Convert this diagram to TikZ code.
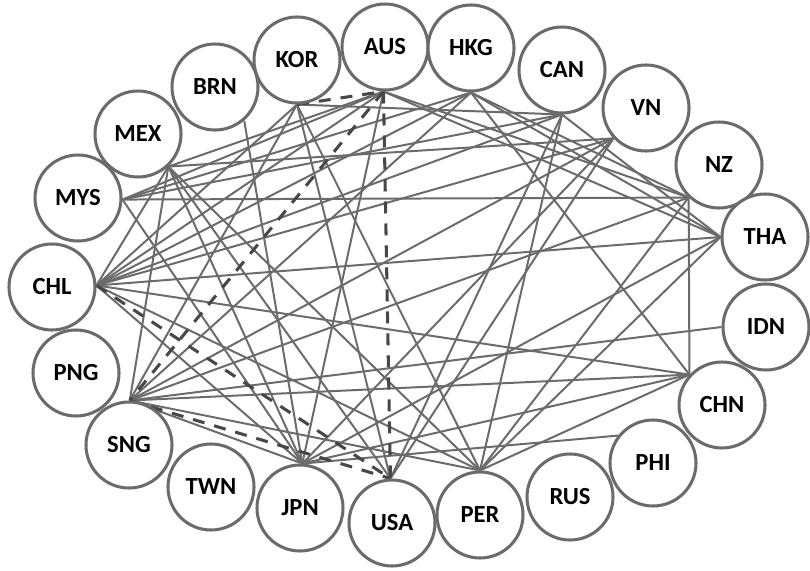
\documentclass[tikz,border=0pt]{standalone}
\usepackage{fontspec}
\setmainfont{Carlito}
\usetikzlibrary{backgrounds}

\begin{document}
\begin{tikzpicture}[x=0.3mm,y=-0.3mm,
  country/.style={circle,draw=black!58,line width=2.6pt,fill=white,
    minimum size=25.8mm,inner sep=0pt,font=\fontsize{21}{24}\selectfont\bfseries},
  link/.style={draw=black!58,line width=1.7pt},
  pathlink/.style={draw=black!72,line width=2.6pt,dash pattern=on 3.6mm off 3mm}]
\useasboundingbox (0,0) rectangle (810,570);

% Countries around the ellipse
\node[country] (KOR) at (297,60)  {KOR};
\node[country] (AUS) at (385,47)  {AUS};
\node[country] (HKG) at (471,48)  {HKG};
\node[country] (CAN) at (562,70)  {CAN};
\node[country] (VN)  at (646,108) {VN};
\node[country] (NZ)  at (719,165) {NZ};
\node[country] (THA) at (765,237) {THA};
\node[country] (IDN) at (766,327) {IDN};
\node[country] (CHN) at (722,405) {CHN};
\node[country] (PHI) at (653,463) {PHI};
\node[country] (RUS) at (570,497) {RUS};
\node[country] (PER) at (480,515) {PER};
\node[country] (USA) at (392,523) {USA};
\node[country] (JPN) at (300,508) {JPN};
\node[country] (TWN) at (211,487) {TWN};
\node[country] (SNG) at (129,445) {SNG};
\node[country] (PNG) at (76,373)  {PNG};
\node[country] (CHL) at (52,287)  {CHL};
\node[country] (MYS) at (78,198)  {MYS};
\node[country] (MEX) at (138,134) {MEX};
\node[country] (BRN) at (215,87)  {BRN};

% Point on each circle where its links meet
\foreach \n/\a in {KOR/-90,AUS/-92,HKG/-90,CAN/-90,VN/-137,NZ/-133,THA/180,
  IDN/180,CHN/137,PHI/142,PER/90,USA/92,JPN/87,SNG/89,CHL/2,MYS/-2,MEX/-47,BRN/-49}
  \coordinate (h\n) at (\n.\a);

\begin{scope}[on background layer]
% Links
\foreach \a/\b in {CHL/MEX,CHL/KOR,CHL/AUS,CHL/HKG,CHL/CAN,CHL/VN,CHL/THA,
  CHL/CHN,CHL/PER,CHL/JPN,MYS/NZ,MYS/HKG,MYS/CAN,MYS/JPN,MYS/AUS,
  MEX/SNG,MEX/JPN,MEX/PER,MEX/AUS,MEX/VN,MEX/USA,BRN/JPN,
  KOR/SNG,KOR/USA,KOR/PER,KOR/CAN,AUS/NZ,AUS/JPN,AUS/THA,
  HKG/NZ,HKG/CHN,HKG/SNG,HKG/THA,CAN/USA,CAN/PER,CAN/THA,
  VN/SNG,VN/JPN,VN/USA,NZ/CHN,NZ/SNG,NZ/PER,THA/JPN,THA/PER,
  IDN/SNG,CHN/SNG,CHN/JPN,CHN/PER,PHI/JPN,PER/SNG,JPN/SNG}
  \draw[link] (h\a) -- (h\b);

% Highlighted links
\foreach \a/\b in {KOR/AUS,AUS/SNG,AUS/USA,CHL/USA,SNG/USA}
  \draw[pathlink] (h\a) -- (h\b);
\end{scope}
\end{tikzpicture}
\end{document}
